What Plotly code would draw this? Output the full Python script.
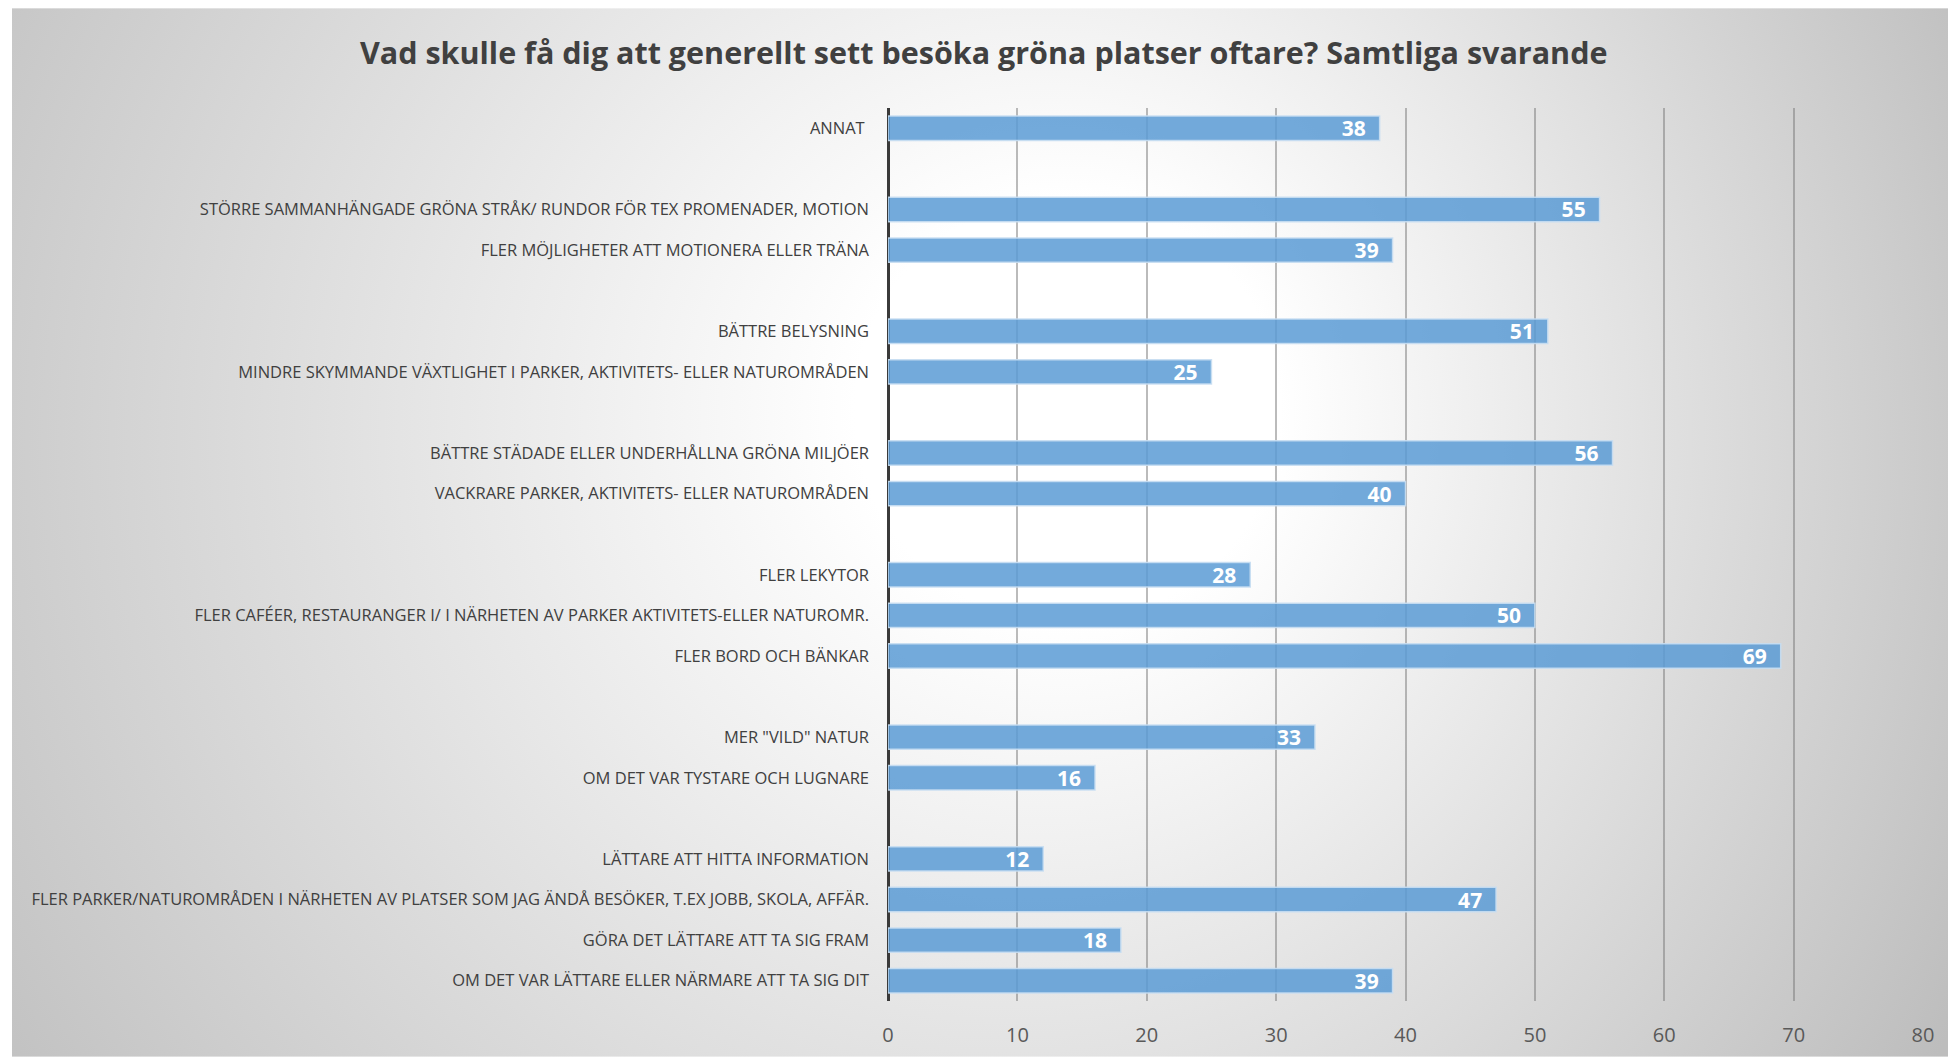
import base64
import plotly.graph_objects as go

# ---- data ----
categories = [
    "ANNAT ",
    " ",
    "STÖRRE SAMMANHÄNGADE GRÖNA STRÅK/ RUNDOR FÖR TEX PROMENADER, MOTION",
    "FLER MÖJLIGHETER ATT MOTIONERA ELLER TRÄNA",
    "  ",
    "BÄTTRE BELYSNING",
    "MINDRE SKYMMANDE VÄXTLIGHET I PARKER, AKTIVITETS- ELLER NATUROMRÅDEN",
    "   ",
    "BÄTTRE STÄDADE ELLER UNDERHÅLLNA GRÖNA MILJÖER",
    "VACKRARE PARKER, AKTIVITETS- ELLER NATUROMRÅDEN",
    "    ",
    "FLER LEKYTOR",
    "FLER CAFÉER, RESTAURANGER I/ I NÄRHETEN AV PARKER AKTIVITETS-ELLER NATUROMR.",
    "FLER BORD OCH BÄNKAR",
    "     ",
    "MER \"VILD\" NATUR",
    "OM DET VAR TYSTARE OCH LUGNARE",
    "      ",
    "LÄTTARE ATT HITTA INFORMATION",
    "FLER PARKER/NATUROMRÅDEN I NÄRHETEN AV PLATSER SOM JAG ÄNDÅ BESÖKER, T.EX JOBB, SKOLA, AFFÄR.",
    "GÖRA DET LÄTTARE ATT TA SIG FRAM",
    "OM DET VAR LÄTTARE ELLER NÄRMARE ATT TA SIG DIT",
]
values = [38, None, 55, 39, None, 51, 25, None, 56, 40, None, 28, 50, 69,
          None, 33, 16, None, 12, 47, 18, 39]
x_ticks = [0, 10, 20, 30, 40, 50, 60, 70, 80]
title_text = "Vad skulle få dig att generellt sett besöka gröna platser oftare? Samtliga svarande"

# ---- layout geometry ----
W, H = 1948, 1060
ML, MR, MT, MB = 888, 25, 108, 56
PW, PH = W - ML - MR, H - MT - MB

svg = f'''<svg xmlns="http://www.w3.org/2000/svg" width="{W}" height="{H}" viewBox="0 0 {W} {H}" preserveAspectRatio="none">
<defs>
<radialGradient id="g" gradientUnits="userSpaceOnUse" cx="920" cy="460" r="1180" fx="1100" fy="400">
<stop offset="0" stop-color="#ffffff"/>
<stop offset="0.18" stop-color="#ffffff"/>
<stop offset="1" stop-color="#bdbdbd"/>
</radialGradient>
</defs>
<rect x="0" y="0" width="{W}" height="{H}" fill="#ffffff"/>
<rect x="12" y="8" width="{W-12}" height="{H-8}" fill="url(#g)"/>
</svg>'''
bg_src = "data:image/svg+xml;base64," + base64.b64encode(svg.encode("utf-8")).decode("ascii")

labels = [("" if v is None else str(v) + "\u00a0\u00a0") for v in values]

fig = go.Figure(go.Bar(
    x=values, y=categories, orientation="h",
    marker=dict(color="rgba(91,155,213,0.85)",
                line=dict(color="rgba(200,222,242,0.9)", width=1.5)),
    width=0.6,
    text=labels, textposition="inside", insidetextanchor="end", textangle=0,
    textfont=dict(family="Open Sans", size=21, color="white", weight="bold"),
    constraintext="none", cliponaxis=False,
    hoverinfo="skip",
))

fig.update_layout(
    width=W, height=H,
    margin=dict(l=ML, r=MR, t=MT, b=MB, pad=0),
    paper_bgcolor="white", plot_bgcolor="rgba(0,0,0,0)",
    showlegend=False,
    title=dict(text="<b>" + title_text + "</b>", x=0.505, xanchor="center",
               y=1 - 53 / H, yanchor="middle",
               font=dict(family="Open Sans", size=30.5, color="#404040")),
    font=dict(family="Open Sans", color="#404040"),
    images=[dict(source=bg_src, xref="paper", yref="paper",
                 x=-ML / PW, y=1 + MT / PH, sizex=W / PW, sizey=H / PH,
                 xanchor="left", yanchor="top", sizing="stretch", layer="below")],
    uniformtext=dict(mode=False),
)

fig.update_xaxes(range=[0, 80], tickvals=x_ticks, ticktext=[str(t) for t in x_ticks],
                 showgrid=True, gridcolor="rgba(120,120,120,0.5)", gridwidth=1.5,
                 zeroline=True, zerolinecolor="#3a3a3a", zerolinewidth=3,
                 showline=False, ticks="", ticklabelstandoff=20,
                 tickfont=dict(family="Open Sans", size=20, color="#595959"),
                 fixedrange=True)
fig.update_yaxes(categoryorder="array", categoryarray=categories, autorange="reversed",
                 showgrid=False, showline=False, zeroline=False, ticks="",
                 ticklabelstandoff=18,
                 tickfont=dict(family="Open Sans", size=16.5, color="#404040"),
                 fixedrange=True)

fig.write_html("out.html", config={"displayModeBar": False},
               post_script="document.body.style.margin='0';document.body.style.overflow='hidden';")
